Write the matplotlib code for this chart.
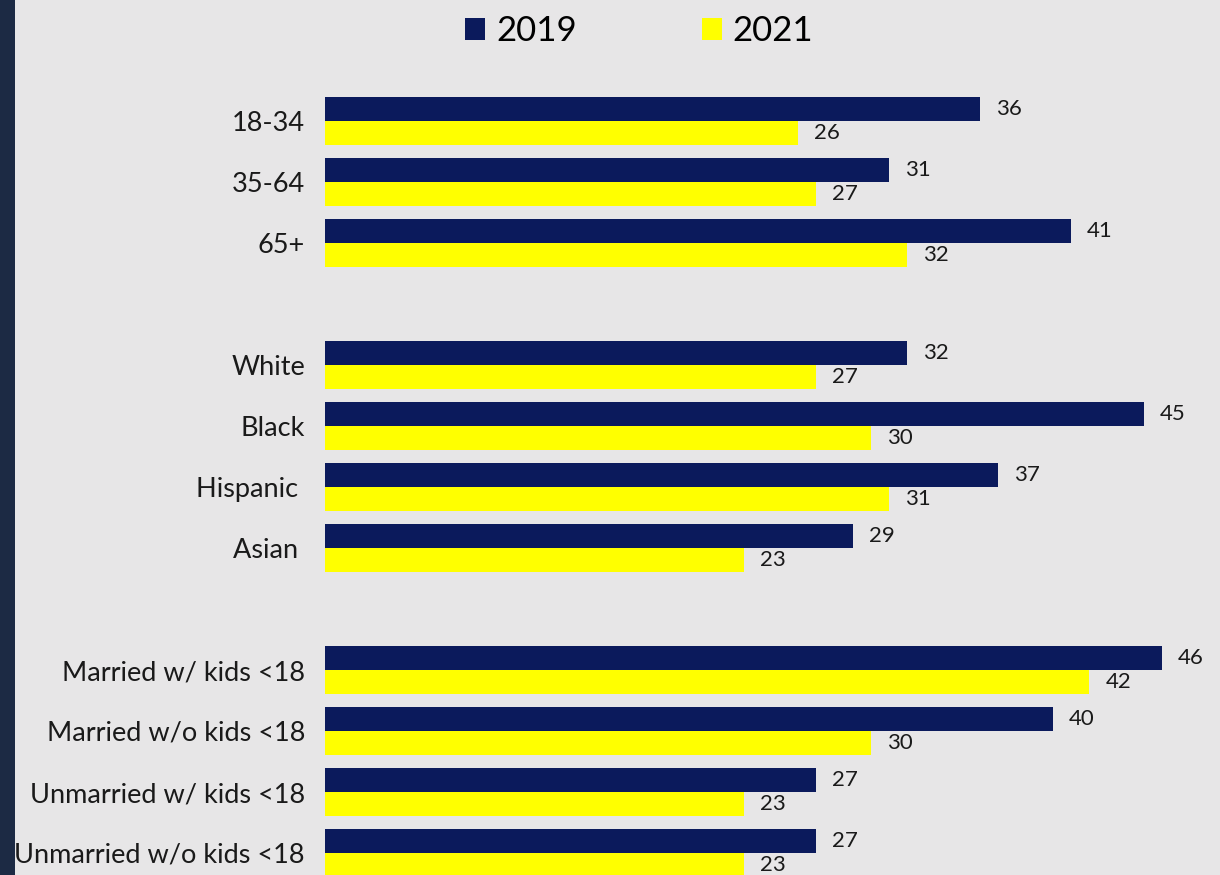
import numpy as np
import matplotlib.pyplot as plt
from matplotlib.patches import Rectangle

plt.rcParams['font.family'] = ['Lato', 'DejaVu Sans']

categories = ["18-34", "35-64", "65+",
              "White", "Black", "Hispanic ", "Asian ",
              "Married w/ kids <18", "Married w/o kids <18",
              "Unmarried w/ kids <18", "Unmarried w/o kids <18"]
# slot index of each category (empty slots separate the groups)
slots = [0, 1, 2, 4, 5, 6, 7, 9, 10, 11, 12]
vals_2019 = [36, 31, 41, 32, 45, 37, 29, 46, 40, 27, 27]
vals_2021 = [26, 27, 32, 27, 30, 31, 23, 42, 30, 23, 23]

navy = "#0b1a5c"
yellow = "#ffff00"
bg = "#e7e6e7"
txt = "#1a1a1a"

fig = plt.figure(figsize=(12.2, 8.75), dpi=100, facecolor=bg)
ax = fig.add_axes([325 / 1220, 0, 1 - 325 / 1220, 1])
ax.set_facecolor(bg)

# dark strip along left edge
fig.patches.append(Rectangle((0, 0), 15 / 1220, 1, transform=fig.transFigure,
                             facecolor="#1c2a44", edgecolor="none", zorder=0))

pos = np.array(slots, dtype=float)
h = 24 / 61
b1 = ax.barh(pos - h / 2, vals_2019, height=h, color=navy, label="2019")
b2 = ax.barh(pos + h / 2, vals_2021, height=h, color=yellow, label="2021")
ax.bar_label(b1, padding=11.5, fontsize=16, color=txt)
ax.bar_label(b2, padding=11.5, fontsize=16, color=txt)

ax.set_xlim(0, 895 / 18.2)
ax.set_ylim((875 - 121) / 61, -121 / 61)
ax.set_yticks(pos, categories, fontsize=19.5, color=txt)
ax.tick_params(axis="y", length=0, pad=14.4)
ax.set_xticks([])
for s in ax.spines.values():
    s.set_visible(False)

fig.legend(handles=[b1, b2], loc="center", bbox_to_anchor=(639 / 1220, 1 - 31 / 875),
           ncol=2, frameon=False, fontsize=25, handlelength=0.6, handleheight=0.6,
           handletextpad=0.3, columnspacing=3.6, borderpad=0, borderaxespad=0)

plt.savefig("out.png", dpi=100, facecolor=bg)
